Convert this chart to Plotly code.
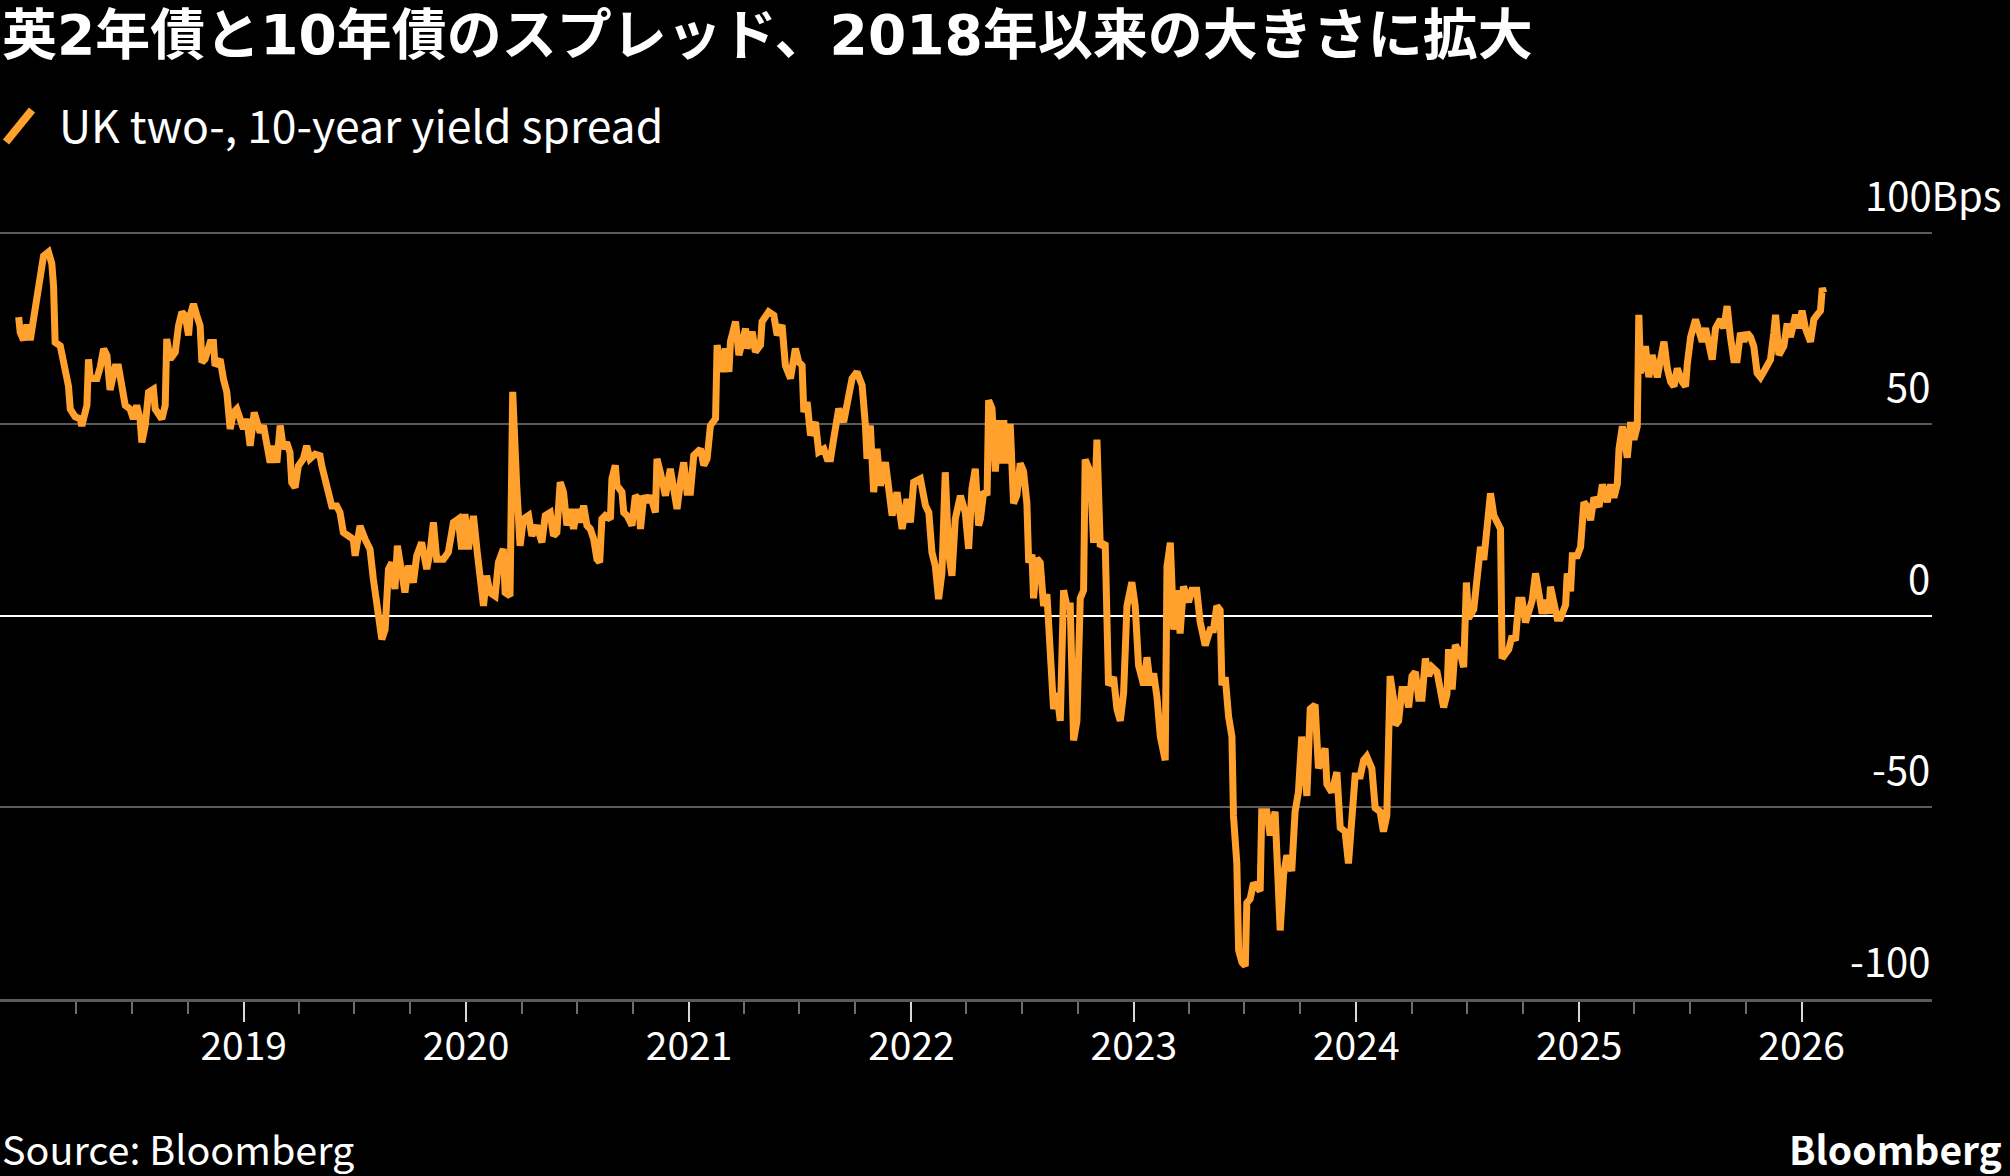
import pandas as pd
import plotly.graph_objects as go

# ---------------- data ----------------
title_text = "英2年債と10年債のスプレッド、2018年以来の大きさに拡大"
series_name = "UK two-, 10-year yield spread"
source_text = "Source: Bloomberg"
brand_text = "Bloomberg"

# time of each observation as decimal year
decimal_years = [
    2017.988, 2017.995, 2018.010, 2018.025, 2018.040, 2018.055, 2018.062, 2018.080, 2018.085, 2018.100,
    2018.122, 2018.137, 2018.145, 2018.152, 2018.175, 2018.190, 2018.205, 2018.212, 2018.220, 2018.242,
    2018.265, 2018.272, 2018.295, 2018.302, 2018.310, 2018.340, 2018.355, 2018.370, 2018.385, 2018.399,
    2018.422, 2018.437, 2018.452, 2018.467, 2018.489, 2018.504, 2018.519, 2018.534, 2018.542, 2018.557,
    2018.572, 2018.594, 2018.602, 2018.632, 2018.647, 2018.654, 2018.669, 2018.692, 2018.707, 2018.722,
    2018.737, 2018.752, 2018.759, 2018.774, 2018.789, 2018.804, 2018.812, 2018.826, 2018.849, 2018.864,
    2018.871, 2018.894, 2018.909, 2018.924, 2018.939, 2018.954, 2018.969, 2018.984, 2018.999, 2019.014,
    2019.029, 2019.047, 2019.059, 2019.074, 2019.089, 2019.104, 2019.119, 2019.134, 2019.149, 2019.164,
    2019.179, 2019.193, 2019.208, 2019.216, 2019.231, 2019.246, 2019.268, 2019.283, 2019.298, 2019.321,
    2019.343, 2019.351, 2019.366, 2019.381, 2019.396, 2019.418, 2019.433, 2019.448, 2019.471, 2019.493,
    2019.501, 2019.523, 2019.546, 2019.568, 2019.583, 2019.598, 2019.613, 2019.621, 2019.636, 2019.643,
    2019.651, 2019.666, 2019.680, 2019.691, 2019.710, 2019.725, 2019.740, 2019.763, 2019.778, 2019.800,
    2019.823, 2019.838, 2019.853, 2019.868, 2019.898, 2019.920, 2019.943, 2019.965, 2019.980, 2019.995,
    2020.010, 2020.033, 2020.050,
    2020.078, 2020.092, 2020.107, 2020.130, 2020.145, 2020.167, 2020.175, 2020.197, 2020.209, 2020.227,
    2020.242, 2020.257, 2020.280, 2020.295, 2020.317, 2020.340, 2020.355, 2020.377, 2020.392, 2020.407,
    2020.422, 2020.437, 2020.452, 2020.467, 2020.482, 2020.497, 2020.512, 2020.527, 2020.542, 2020.557,
    2020.572, 2020.587, 2020.599, 2020.609, 2020.624, 2020.647, 2020.654, 2020.669, 2020.677, 2020.699,
    2020.707, 2020.722, 2020.744, 2020.759, 2020.774, 2020.782, 2020.797, 2020.812, 2020.827, 2020.849,
    2020.856, 2020.871, 2020.894, 2020.916, 2020.931, 2020.946, 2020.961, 2020.976, 2020.991, 2021.006,
    2021.021, 2021.051, 2021.066, 2021.081, 2021.096, 2021.119, 2021.126, 2021.149, 2021.164, 2021.179,
    2021.186, 2021.209, 2021.224, 2021.239, 2021.254, 2021.261, 2021.284, 2021.298, 2021.321, 2021.328,
    2021.358, 2021.381, 2021.396, 2021.418, 2021.433, 2021.456, 2021.478, 2021.493, 2021.508, 2021.516,
    2021.531, 2021.546, 2021.568, 2021.583, 2021.606, 2021.621, 2021.636, 2021.650, 2021.673, 2021.695,
    2021.710, 2021.733, 2021.755, 2021.778, 2021.793, 2021.800, 2021.815, 2021.830, 2021.845, 2021.860,
    2021.883, 2021.898, 2021.913, 2021.935, 2021.958, 2021.980, 2021.995, 2022.010, 2022.040, 2022.063,
    2022.078, 2022.092, 2022.107, 2022.122, 2022.137, 2022.152, 2022.167, 2022.182, 2022.197, 2022.220,
    2022.242, 2022.257, 2022.272, 2022.287, 2022.302,
    2022.310, 2022.325, 2022.340, 2022.347, 2022.362, 2022.377, 2022.392, 2022.407, 2022.415, 2022.429,
    2022.444, 2022.459, 2022.474, 2022.489, 2022.504, 2022.519, 2022.527, 2022.542, 2022.549, 2022.564,
    2022.579, 2022.594, 2022.609, 2022.624, 2022.639, 2022.654, 2022.669, 2022.684, 2022.699, 2022.714,
    2022.729, 2022.744, 2022.759, 2022.774, 2022.781, 2022.804, 2022.819, 2022.834, 2022.849, 2022.871,
    2022.886, 2022.909, 2022.924, 2022.939, 2022.954, 2022.969, 2022.991, 2023.006, 2023.021, 2023.044,
    2023.059, 2023.074, 2023.089, 2023.104, 2023.119, 2023.141, 2023.149, 2023.164, 2023.179, 2023.194,
    2023.208, 2023.223, 2023.246, 2023.261, 2023.283, 2023.298, 2023.321, 2023.343, 2023.358, 2023.373,
    2023.388, 2023.396, 2023.411, 2023.426, 2023.441, 2023.448, 2023.463, 2023.471, 2023.486, 2023.501,
    2023.508, 2023.523, 2023.538, 2023.568, 2023.575, 2023.598, 2023.613, 2023.635, 2023.650, 2023.658,
    2023.673, 2023.688, 2023.710, 2023.725, 2023.740, 2023.755, 2023.778, 2023.793, 2023.815, 2023.830,
    2023.860, 2023.868, 2023.890, 2023.913, 2023.928, 2023.950, 2023.965, 2023.980, 2023.995, 2024.018,
    2024.033, 2024.047, 2024.070, 2024.085, 2024.107, 2024.122, 2024.137,
    2024.152, 2024.167, 2024.175, 2024.190, 2024.205, 2024.220, 2024.235, 2024.250, 2024.265, 2024.280,
    2024.295, 2024.310, 2024.325, 2024.340, 2024.362, 2024.377, 2024.392, 2024.407, 2024.414, 2024.430,
    2024.444, 2024.467, 2024.482, 2024.494, 2024.504, 2024.527, 2024.542, 2024.557, 2024.572, 2024.587,
    2024.602, 2024.617, 2024.632, 2024.647, 2024.654, 2024.669, 2024.684, 2024.699, 2024.714, 2024.729,
    2024.744, 2024.759, 2024.774, 2024.789, 2024.804, 2024.819, 2024.834, 2024.849, 2024.864, 2024.871,
    2024.886, 2024.901, 2024.916, 2024.939, 2024.946, 2024.961, 2024.969, 2024.991, 2025.006, 2025.021,
    2025.036, 2025.051, 2025.066, 2025.089, 2025.104, 2025.126, 2025.141, 2025.156, 2025.171, 2025.179,
    2025.194, 2025.208, 2025.216, 2025.231, 2025.246, 2025.261, 2025.268, 2025.276, 2025.298, 2025.313,
    2025.328, 2025.351, 2025.366, 2025.381, 2025.396, 2025.411, 2025.426, 2025.441, 2025.463, 2025.478,
    2025.486, 2025.501, 2025.523, 2025.538, 2025.553, 2025.568, 2025.583, 2025.598, 2025.613, 2025.635,
    2025.650, 2025.665, 2025.680, 2025.695, 2025.710, 2025.725, 2025.740, 2025.755, 2025.770, 2025.785,
    2025.800, 2025.815, 2025.838, 2025.860, 2025.875, 2025.883, 2025.898, 2025.920, 2025.935, 2025.950,
    2025.973, 2025.987, 2026.002, 2026.017, 2026.040, 2026.055, 2026.070, 2026.085, 2026.093, 2026.100,
]

# spread in basis points
spread_bps = [
    78, 74, 72, 76, 72, 77.5, 82, 86, 90.6, 94,
    95, 92, 86, 71.4, 70.5, 65, 62, 60, 54, 52,
    51.4, 49.6, 55, 67, 62, 62, 65, 69.7, 68, 59,
    65, 65, 60, 55, 54, 51.4, 55, 51.4, 45.3, 49.7,
    58.4, 59.2, 54, 51.4, 55, 72.3, 67, 68.8, 75.8, 79.3,
    78.4, 73.2, 78.4, 81.4, 78.4, 75.8, 66.2, 67, 71.4, 71.4,
    65.3, 67, 61.8, 58.4, 48.8, 53.1, 54, 51.4, 48.8, 51.4,
    44.4, 53.1, 50.5, 47.9, 49.7, 43.6, 40, 44.4, 40, 49.7,
    43.6, 45.3, 42.7, 34.8, 33.5, 39.2, 41, 44.4, 41, 42.2,
    41.8, 39.2, 35.7, 30.5, 28.7, 28.7, 27, 21.8, 20.9, 20,
    15.7, 23.5, 20, 17.4, 9.6, 2.6, -2.6, -6.1, -3.5, 7.8,
    12.2, 13.9, 7, 18.3, 11.3, 6.1, 13.1, 8.7, 15.7, 19.2,
    12.2, 16.6, 24.4, 14.8, 14.8, 16.6, 24.4, 25.3, 17.4, 26.6,
    17.4, 26.1, 16.6,
    2.6, 10.5, 6.1, 5.2, 14, 17.5, 6.1, 5.2, 58.5, 34,
    18.3, 25.3, 26.2, 20.9, 23.6, 19.2, 26.2, 27, 20.9, 21.8,
    34.9, 32.3, 23.6, 27.9, 22.7, 27.9, 24.4, 28.8, 23.6, 22.7,
    20.1, 14.8, 14, 25.3, 26.2, 25.3, 35.8, 39.3, 34, 32.3,
    27, 26.2, 23.6, 31.4, 30.5, 22.7, 31.4, 29.7, 31.4, 27,
    41, 37.5, 31.4, 38.4, 32.3, 27.9, 34.9, 40.1, 32.3, 32.3,
    41.9, 43.6, 39.3, 41, 49.7, 51.5, 70.7, 63.7, 69.8, 63.7,
    71.6, 76.8, 68.1, 72.4, 75, 69.8, 74.2, 68.9, 70.7, 76.8,
    79.4, 78.5, 73.3, 75.9, 65.4, 62, 69.8, 66.3, 65.4, 53.2,
    55.8, 47.1, 50.6, 42.8, 43.6, 41, 41, 46.2, 54.1, 50.6,
    55, 62, 63.7, 60.2, 49.7, 41, 49.7, 32.3, 43.6, 34,
    40.1, 34, 26.2, 32.3, 22.7, 30.5, 24.4, 34.9, 35.8, 28.8,
    27, 16.6, 13.1, 4.4, 11.3, 37.5, 16.6, 10.5, 25.3, 31.4,
    27, 17.5, 33.2, 38.4, 23.6,
    25.3, 32.5, 31.5, 56.3, 54.2, 37.7, 51.1, 39.8, 51.1, 39.8,
    50.1, 29.4, 31.5, 39.8, 37.7, 29.4, 13.9, 16, 4.6, 15,
    13.9, 2.6, 5.7, -12, -24.3, -20.1, -27.4, 6.7, 2.6, 2.6,
    -32.5, -27.4, 4.6, 6.7, 40.8, 37.7, 19.1, 46, 18.1, 19.1,
    -18.1, -16, -24.3, -27.4, -20.1, 2.6, 8.8, 2.6, -12.9, -18.1,
    -10.8, -18.1, -15, -21.2, -31.5, -37.7, 12.9, 19.1, -3.6, 6.7,
    -4.6, 7.7, 3.6, 6.7, 6.7, -1.5, -7.7, -3.6, -3.6, 2.6,
    1.5, -18.1, -16, -26.3, -31.5, -52.2, -64.6, -87.3, -90.4, -91.4,
    -74.9, -73.9, -69.7, -71.8, -51.1, -51.1, -57.3, -51.1, -69.7, -82.1,
    -67.7, -62.5, -66.6, -51.1, -46, -31.5, -47, -24.3, -23.2, -39.8,
    -34.6, -43.9, -46, -40.8, -55.3, -56.3, -64.6, -55.3, -41.8, -41.8,
    -37.7, -36.7, -39.8, -50.1, -51.1, -56.3, -52.2,
    -15.7, -21.5, -28.5, -27.4, -19.2, -19.2, -23.9, -15.7, -14.6, -21.5,
    -21.5, -11.1, -15.7, -13.4, -14.6, -20.4, -23.9, -20.4, -8.7, -19.2,
    -7.6, -9.9, -13.4, 8.7, -0.6, 1.7, 12.2, 18, 14.6, 23.9,
    32, 26.2, 23.9, 22.7, -11.1, -9.9, -8.7, -5.2, -6.4, 4.1,
    4.1, -1.7, 0.6, 4.1, 11.1, 6.4, 0.6, 4.1, 0.6, 7.6,
    4.1, -0.6, -0.6, 2.9, 11.1, 6.4, 15.7, 15.7, 18, 29.7,
    28.5, 25, 30.9, 28.5, 34.3, 29.7, 34.3, 30.9, 34.3, 43.7,
    49.5, 43.7, 41.3, 50.6, 46, 49.5, 78.6, 63.4, 70.4, 62.3,
    68.1, 62.3, 66.9, 71.6, 64.6, 61.1, 59.9, 64.6, 61.1, 59.9,
    65.8, 72.8, 77.4, 75.1, 71.6, 75.1, 70.4, 66.9, 75.1, 77.4,
    75.1, 80.9, 72.8, 66.9, 66.9, 73.9, 71.6, 73.9, 72.8, 70.4,
    63.4, 62.3, 64.6, 66.9, 73.9, 78.6, 68.1, 70.4, 76.3, 72.8,
    78.6, 75.1, 79.7, 75.1, 71.6, 77.4, 78.6, 79.7, 85.6, 84.4,
]

ytick_values = [100, 50, 0, -50, -100]
ytick_labels = ["100Bps", "50", "0", "-50", "-100"]
xtick_years = [2019, 2020, 2021, 2022, 2023, 2024, 2025, 2026]


def decimal_year_to_date(t):
    year = int(t)
    start = pd.Timestamp(year=year, month=1, day=1)
    end = pd.Timestamp(year=year + 1, month=1, day=1)
    return start + (end - start) * (t - year)


dates = [decimal_year_to_date(t) for t in decimal_years]

# ---------------- layout geometry ----------------
W, H = 2010, 1176
M_L, M_R, M_T, M_B = 0, 78, 229, 177
PLOT_W = W - M_L - M_R
PLOT_H = H - M_T - M_B


def px_x(px):
    return (px - M_L) / PLOT_W


def px_y(py):
    return (H - M_B - py) / PLOT_H


ORANGE = "#ffa12c"
GRID = "#5a5a5a"
TEXT = "#ffffff"
FONT = "Noto Sans CJK JP"

fig = go.Figure()
fig.add_trace(go.Scatter(
    x=dates, y=spread_bps, mode="lines", name=series_name,
    line=dict(color=ORANGE, width=7), showlegend=False,
    hoverinfo="x+y",
))

major_ticks = [pd.Timestamp(year=y, month=1, day=1) for y in xtick_years]
minor_ticks = [d for d in pd.date_range("2018-04-01", "2025-12-31", freq="QS")
               if d.month != 1]

fig.update_layout(
    width=W, height=H,
    paper_bgcolor="black", plot_bgcolor="black",
    margin=dict(l=M_L, r=M_R, t=M_T, b=M_B, pad=0),
    font=dict(family=FONT, color=TEXT, size=39),
    showlegend=False,
    xaxis=dict(
        type="date",
        range=["2017-11-27", "2026-08-03"],
        showgrid=False, zeroline=False,
        showline=True, linecolor=GRID, linewidth=3,
        tickmode="array", tickvals=major_ticks, ticktext=[str(y) for y in xtick_years],
        ticks="outside", ticklen=20, tickwidth=2, tickcolor="#d8d8d8",
        ticklabelstandoff=-9,
        tickfont=dict(family=FONT, size=39, color=TEXT),
        minor=dict(tickmode="array", tickvals=minor_ticks, ticks="outside",
                   ticklen=12, tickwidth=2, tickcolor="#6e6e6e", showgrid=False),
        fixedrange=True,
    ),
    yaxis=dict(
        range=[-100, 101],
        tickmode="array", tickvals=ytick_values,
        showticklabels=False, ticks="",
        showgrid=True, gridcolor=GRID, gridwidth=2,
        zeroline=True, zerolinecolor="#ffffff", zerolinewidth=2,
        showline=False, fixedrange=True,
    ),
)

annotations = []
# y-axis labels sitting above the gridlines, right aligned
for v, lab in zip(ytick_values, ytick_labels):
    x_right = px_x(2003) if lab.endswith("Bps") else 1.0
    annotations.append(dict(
        x=x_right, xref="paper", y=v, yref="y", text=lab, showarrow=False,
        xanchor="right", yanchor="bottom", yshift=8,
        font=dict(family=FONT, size=40, color=TEXT),
    ))

# title
annotations.append(dict(
    x=px_x(0), xref="paper", y=px_y(1), yref="paper", text="<b>" + title_text + "</b>",
    showarrow=False, xanchor="left", yanchor="top",
    font=dict(family="DejaVu Sans, Noto Sans CJK JP", size=55, color=TEXT),
))
# legend text
annotations.append(dict(
    x=px_x(57), xref="paper", y=px_y(124), yref="paper", text=series_name,
    showarrow=False, xanchor="left", yanchor="middle",
    font=dict(family=FONT, size=44.5, color=TEXT),
))
# source
annotations.append(dict(
    x=px_x(0), xref="paper", y=px_y(1178), yref="paper", text=source_text,
    showarrow=False, xanchor="left", yanchor="bottom",
    font=dict(family=FONT, size=39.5, color=TEXT),
))
# brand
annotations.append(dict(
    x=px_x(2004), xref="paper", y=px_y(1178), yref="paper", text="<b>" + brand_text + "</b>",
    showarrow=False, xanchor="right", yanchor="bottom",
    font=dict(family=FONT, size=39, color=TEXT),
))
fig.update_layout(annotations=annotations)

# legend swatch (diagonal stroke)
fig.add_shape(type="line", xref="paper", yref="paper",
              x0=px_x(6), y0=px_y(142), x1=px_x(32), y1=px_y(110),
              line=dict(color=ORANGE, width=8))

fig.write_html("out.html")
